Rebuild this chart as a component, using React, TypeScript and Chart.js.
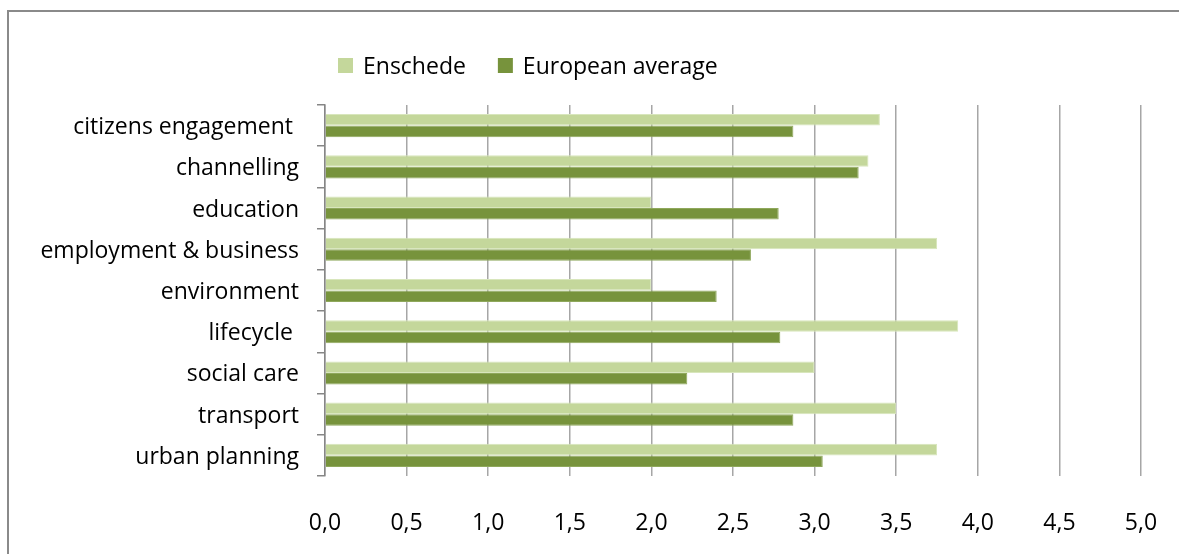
import React, { useEffect, useRef } from "react";
import { Chart, registerables } from "chart.js";

Chart.register(...registerables);

const categories = [
  "citizens engagement ",
  "channelling",
  "education",
  "employment & business",
  "environment",
  "lifecycle ",
  "social care",
  "transport",
  "urban planning",
];
const seriesNames = ["Enschede", "European average"];
const enschede = [3.4, 3.33, 2.0, 3.75, 2.0, 3.88, 3.0, 3.5, 3.75];
const europeanAverage = [2.87, 3.27, 2.78, 2.61, 2.4, 2.79, 2.22, 2.87, 3.05];
const xMin = 0;
const xMax = 5;
const xStep = 0.5;

const FONT = "'Open Sans', Lato, sans-serif";
const FONT_SIZE = 23;
const LIGHT = "#C4D79B";
const DARK = "#77933C";

const legendPlugin = {
  id: "customLegend",
  afterDraw(chart: any) {
    const ctx = chart.ctx;
    ctx.save();
    ctx.font = `${FONT_SIZE}px ${FONT}`;
    ctx.textBaseline = "alphabetic";
    ctx.textAlign = "left";
    let x = 338;
    const yBase = 74;
    chart.data.datasets.forEach((ds: any) => {
      ctx.fillStyle = ds.backgroundColor;
      ctx.fillRect(x, 58, 15, 15);
      ctx.fillStyle = "#000";
      ctx.fillText(ds.label, x + 25, yBase);
      x += 25 + ctx.measureText(ds.label).width + 32;
    });
    ctx.restore();
  },
};

export default function App() {
  const ref = useRef<HTMLCanvasElement | null>(null);

  useEffect(() => {
    if (!ref.current) return;
    const chart = new Chart(ref.current, {
      type: "bar",
      data: {
        labels: categories,
        datasets: [
          {
            label: seriesNames[0],
            data: enschede,
            backgroundColor: LIGHT,
            borderColor: "#D8E6BC",
            borderWidth: 1,
            categoryPercentage: 0.56,
            barPercentage: 1,
          },
          {
            label: seriesNames[1],
            data: europeanAverage,
            backgroundColor: DARK,
            borderColor: "#8FA85C",
            borderWidth: 1,
            categoryPercentage: 0.56,
            barPercentage: 1,
          },
        ],
      },
      options: {
        indexAxis: "y",
        animation: false,
        responsive: false,
        maintainAspectRatio: false,
        layout: { padding: { top: 105, right: 38, left: 0, bottom: 0 } },
        plugins: {
          legend: { display: false },
          tooltip: { enabled: false },
        },
        scales: {
          x: {
            min: xMin,
            max: xMax,
            ticks: {
              stepSize: xStep,
              color: "#000",
              font: { family: FONT, size: FONT_SIZE },
              padding: 34,
              callback: (v: any) => Number(v).toFixed(1).replace(".", ","),
            },
            grid: { color: "#A6A6A6", lineWidth: 1.5, drawTicks: false },
            border: { display: false },
            afterFit: (s: any) => {
              s.height = 78;
              s.paddingLeft = 0;
              s.paddingRight = 0;
            },
          },
          y: {
            ticks: {
              color: "#000",
              font: { family: FONT, size: FONT_SIZE },
              padding: 18,
              labelOffset: 2,
            },
            grid: {
              drawOnChartArea: false,
              color: "#868686",
              tickLength: 8,
              lineWidth: 1.5,
            },
            border: { display: true, color: "#868686", width: 1.5 },
            afterFit: (s: any) => {
              s.width = 325;
              s.paddingTop = 0;
              s.paddingBottom = 0;
            },
          },
        },
      },
      plugins: [legendPlugin],
    });
    return () => chart.destroy();
  }, []);

  return (
    <div style={{ position: "absolute", left: 0, top: 0, width: 1179, height: 554, background: "#fff" }}>
      <canvas ref={ref} width={1179} height={554} style={{ position: "absolute", left: 0, top: 0 }} />
      <div
        style={{
          position: "absolute",
          left: 7,
          top: 10,
          width: 1200,
          height: 600,
          borderTop: "2px solid #8A8A8A",
          borderLeft: "2px solid #8A8A8A",
          pointerEvents: "none",
        }}
      />
    </div>
  );
}
